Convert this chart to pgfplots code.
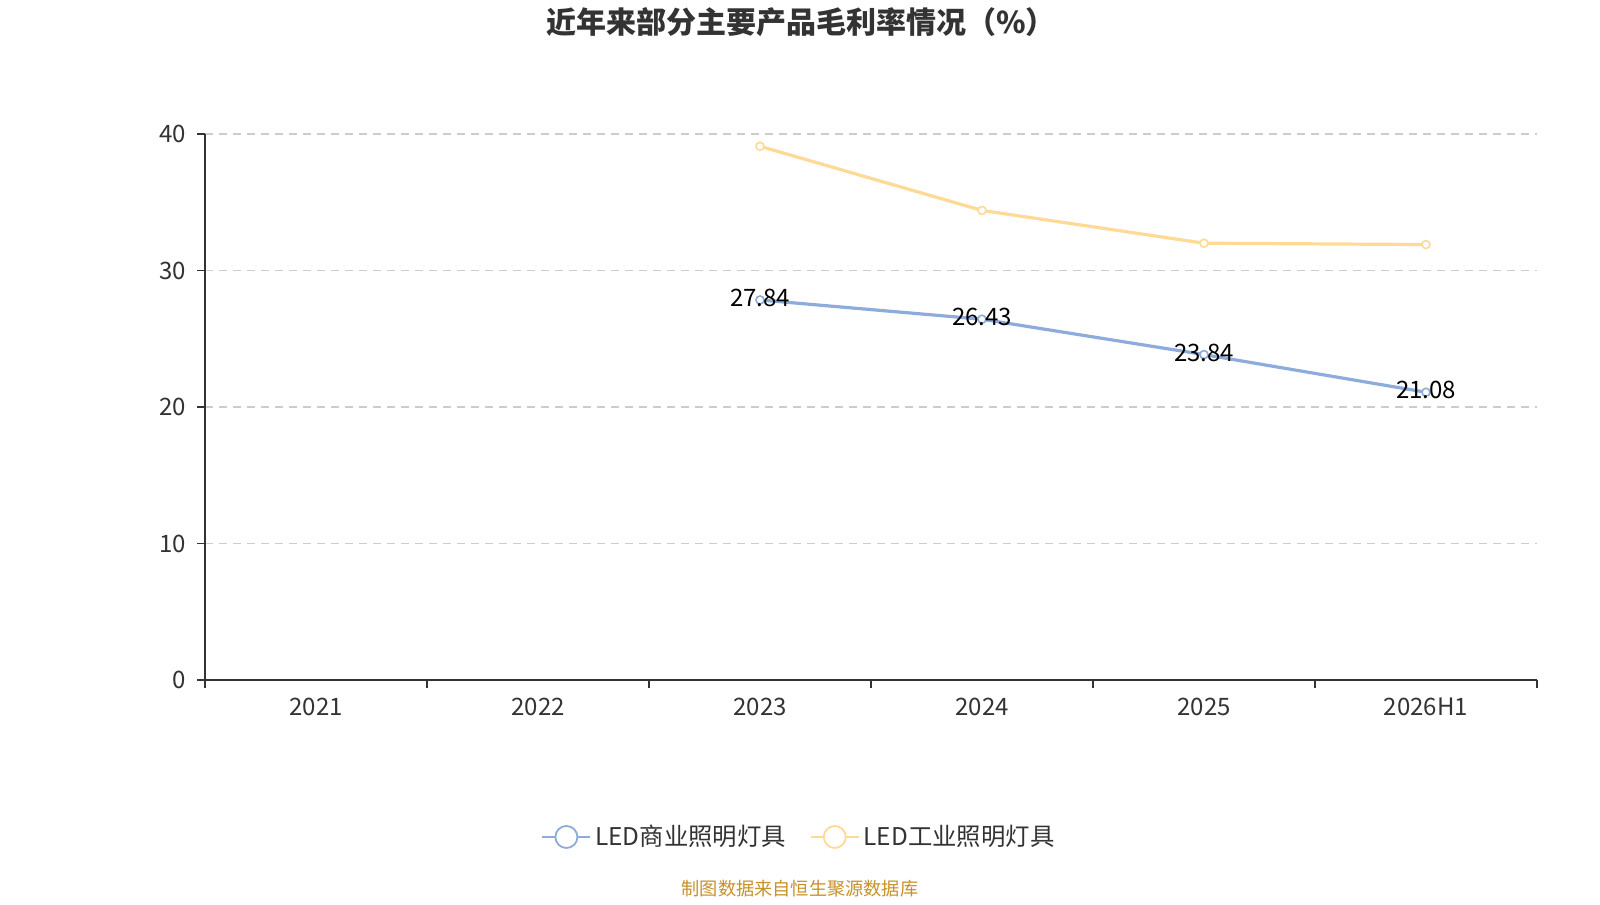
\documentclass[border=0pt]{standalone}
\usepackage{fontspec}
\setmainfont{Noto Sans CJK SC}
\usepackage{pgfplots}
\pgfplotsset{compat=1.18}
\definecolor{cblue}{HTML}{8DABDB}
\definecolor{corange}{HTML}{FFD996}
\definecolor{txt}{HTML}{333333}
\definecolor{gridc}{HTML}{CCCCCC}
\definecolor{src}{HTML}{C8912A}
\begin{document}
\begin{tikzpicture}[x=1pt,y=1pt]
\fill[white] (0,0) rectangle (800,450);
\node[font=\bfseries\fontsize{15}{18}\selectfont, text=txt] at (400.5,439) {近年来部分主要产品毛利率情况（\%）};
\node[font=\fontsize{9.1}{11}\selectfont, text=src] at (400,5.5) {制图数据来自恒生聚源数据库};
\begin{axis}[
  at={(102.5pt,110pt)}, anchor=south west,
  scale only axis, width=666pt, height=273pt,
  xmin=0, xmax=6, ymin=0, ymax=40,
  axis x line*=bottom, axis y line*=left,
  axis line style={txt, line width=0.9pt},
  xtick={0.5,1.5,2.5,3.5,4.5,5.5},
  xticklabels={2021,2022,2023,2024,2025,2026H1},
  minor xtick={0,1,2,3,4,5,6},
  ytick={0,10,20,30,40},
  ymajorgrids,
  major grid style={gridc, dash pattern=on 4pt off 3pt, line width=0.6pt},
  tick align=outside,
  major tick length=4pt, minor tick length=4pt,
  x tick style={draw=none},
  minor x tick style={draw=txt, line width=0.9pt},
  y tick style={txt, line width=0.9pt},
  tick label style={font=\fontsize{12}{14}\selectfont, text=txt},
  /pgf/number format/assume math mode=true,
  xticklabel style={yshift=-1.5pt},
  yticklabel style={xshift=-2pt},
  legend columns=2,
  legend style={draw=none, fill=none, at={(0.4467,-0.2875)}, anchor=center,
    font=\fontsize{12.2}{14}\selectfont, text=txt,
    /tikz/every even column/.append style={column sep=10pt}},
  legend cell align=left,
]
\addplot[cblue, line width=1.6pt, mark=*, mark size=2pt, mark options={fill=white, line width=0.8pt},
  nodes near coords, point meta=explicit symbolic,
  every node near coord/.append style={anchor=center, yshift=1pt, text=black, font=\fontsize{12}{14}\selectfont},
  legend image code/.code={\draw[cblue, line width=0.8pt] (0pt,0pt) -- (24pt,0pt); \draw[cblue, line width=0.9pt, fill=white] (12pt,0pt) circle (5.5pt);}]
  coordinates {(2.5,27.84)[27.84] (3.5,26.43)[26.43] (4.5,23.84)[23.84] (5.5,21.08)[21.08]};
\addlegendentry{LED商业照明灯具}
\addplot[corange, line width=1.6pt, mark=*, mark size=2pt, mark options={fill=white, line width=0.8pt},
  legend image code/.code={\draw[corange, line width=0.8pt] (0pt,0pt) -- (24pt,0pt); \draw[corange, line width=0.9pt, fill=white] (12pt,0pt) circle (5.5pt);}]
  coordinates {(2.5,39.1) (3.5,34.4) (4.5,32.0) (5.5,31.9)};
\addlegendentry{LED工业照明灯具}
\end{axis}
\end{tikzpicture}
\end{document}
